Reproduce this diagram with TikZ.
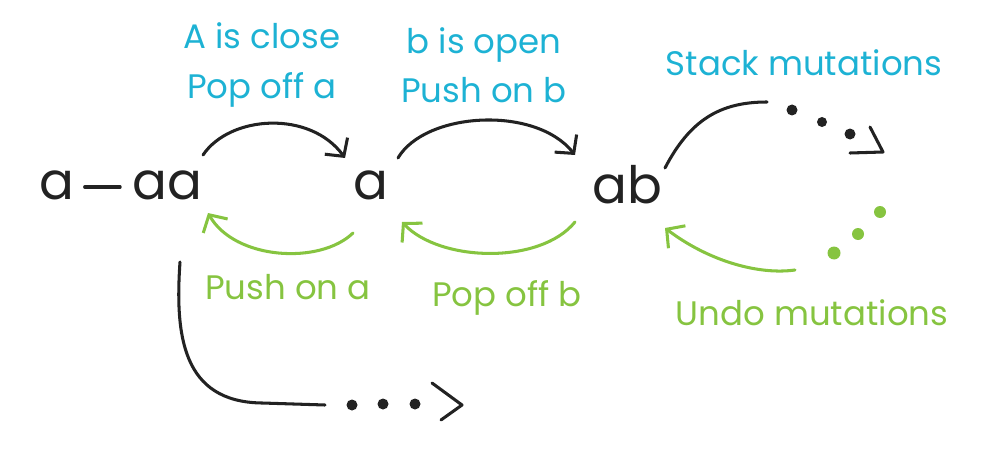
\documentclass[tikz,border=0pt]{standalone}
\usepackage{fontspec}
\setmainfont{Poppins}
\usetikzlibrary{arrows.meta}
\definecolor{ink}{HTML}{222222}
\definecolor{cy}{HTML}{1DB2D4}
\definecolor{gr}{HTML}{86C440}
\begin{document}
\begin{tikzpicture}[x=0.03cm,y=-0.03cm,
  pen/.style={line width=2.6pt,line cap=round,line join=round},
  blk/.style={pen,draw=ink},
  grn/.style={pen,draw=gr},
  tipk/.style={-{Straight Barb[length=11pt,width=24pt,line width=2.6pt]}},
  big/.style={inner sep=0pt,text=ink,font=\fontsize{44}{50}\selectfont},
  lab/.style={inner sep=0pt,align=center,font=\fontsize{29}{42}\selectfont},
  cyl/.style={lab,text=cy},
  grl/.style={lab,text=gr},
  dotk/.style={fill=ink,draw=none},
  dotg/.style={fill=gr,draw=none}]
\useasboundingbox (0,0) rectangle (1000,450);
% main nodes
\node[big] (a1) at (57,185) {a};
\node[big] (aa) at (167,185) {aa};
\node[big] (am) at (371,185) {a};
\node[big] (ab) at (627,185) {ab};
\draw[blk] (a1.east) ++(10,2) coordinate (d1) -- ([xshift=-10]aa.west |- d1);
% labels
\node[cyl] (l1) at (262,65) {A is close\\Pop off a};
\node[cyl] (l2) at (484,65) {b is open\\Push on b};
\node[cyl] (l3) at (804,63) {Stack mutations};
\node[grl] (l4) at (288,287) {Push on a};
\node[grl] (l5) at (507,298) {Pop off b};
\node[grl] (l6) at (812,313) {Undo mutations};
% anchor points
\coordinate (aaT) at (203,155);
\coordinate (amTin) at (345,158);
\coordinate (amTout) at (398,158);
\coordinate (abTin) at (575,155);
\coordinate (abTout) at (665,168);
\coordinate (aaB) at (208,213);
\coordinate (amBout) at (353,233);
\coordinate (amBin) at (402,222);
\coordinate (abBout) at (575,222);
\coordinate (abBin) at (665,228);
\coordinate (aaD) at (180,262);
\coordinate (e1) at (767,102);
\coordinate (e2) at (795,270);
\coordinate (e3) at (325,405);
% black arcs
\draw[blk,tipk] (aaT) .. controls (230,115) and (310,110) .. (amTin);
\draw[blk,tipk] (amTout) .. controls (425,112) and (535,105) .. (abTin);
\draw[blk] (abTout) .. controls (690,120) and (720,102) .. (e1);
% green arcs
\draw[grn,tipk] (amBout) .. controls (320,265) and (235,260) .. (aaB);
\draw[grn,tipk] (abBout) .. controls (540,265) and (440,262) .. (amBin);
\draw[grn,tipk] (e2) .. controls (760,275) and (710,262) .. (abBin);
% bottom branch
\draw[blk] (aaD) .. controls (175,335) and (182,402) .. (262,403) -- (e3);
% dots and chevrons
\fill[dotk] (792,110) circle (5.5);
\fill[dotk] (822,122) circle (5);
\fill[dotk] (850,134) circle (5.5);
\draw[blk] (870,127) -- (883,152) -- (850,153);
\fill[dotg] (880,212) circle (6);
\fill[dotg] (858,234) circle (6);
\fill[dotg] (834,253) circle (6.5);
\fill[dotk] (352,405) circle (5.5);
\fill[dotk] (383,404) circle (5.5);
\fill[dotk] (415,404) circle (5.5);
\draw[blk] (432,383) -- (462,405) -- (441,420);
\end{tikzpicture}
\end{document}
